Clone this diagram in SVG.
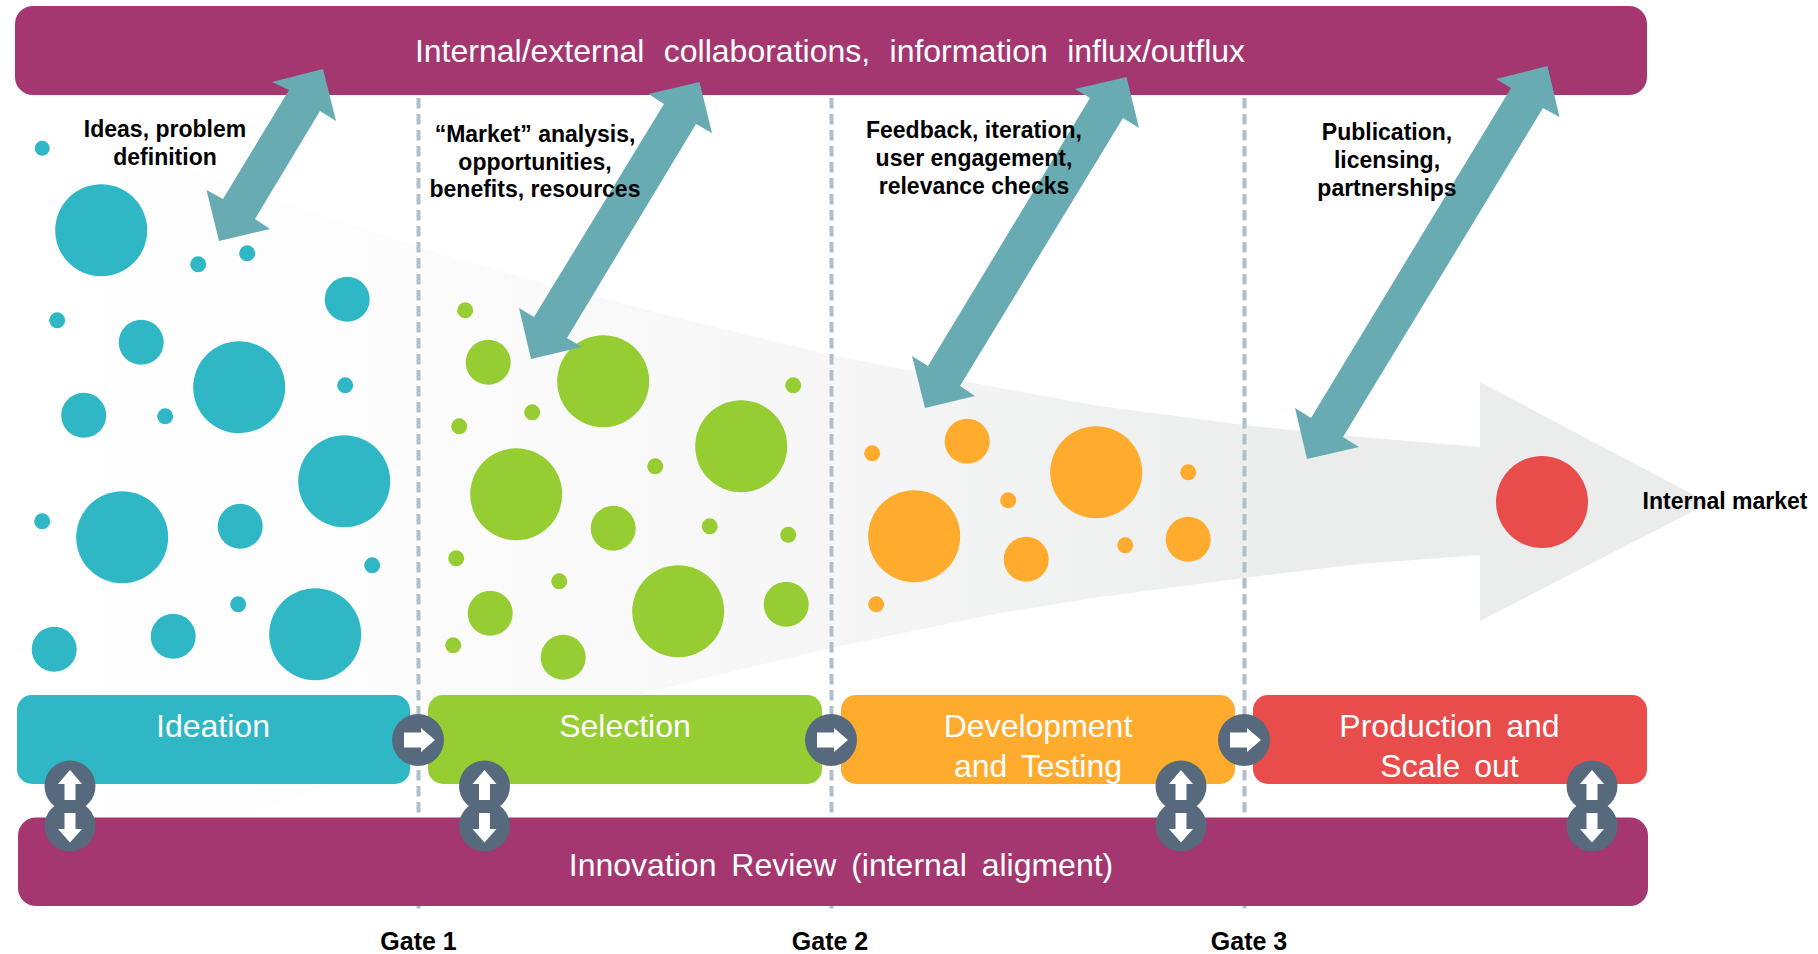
<svg xmlns="http://www.w3.org/2000/svg" width="1818" height="954" viewBox="0 0 1818 954">
<style>
.teal{fill:#2fb7c6}.green{fill:#95cd33}.orange{fill:#ffab2e}.red{fill:#e84d4c}.plum{fill:#a43770}
.dbl{fill:#68abb3}.gate{stroke:#b0bfca;stroke-width:4;stroke-dasharray:10.500 5.500;fill:none}
.btn{fill:#56697d}.ico{fill:#fff}
.w{font-family:"Liberation Sans",Arial,sans-serif;font-size:32px;fill:#fff;text-anchor:middle;word-spacing:5px}
.b{font-family:"Liberation Sans",Arial,sans-serif;font-size:23px;font-weight:700;fill:#000;text-anchor:middle}
.g{font-size:25px}
</style>
<defs>
<linearGradient id="fade" gradientUnits="userSpaceOnUse" x1="30" y1="0" x2="1300" y2="0">
<stop offset="0" stop-color="#fff"/><stop offset="0.236" stop-color="#fdfdfd"/><stop offset="0.63" stop-color="#f6f6f6"/><stop offset="0.843" stop-color="#f0f1f1"/><stop offset="1" stop-color="#ebeded"/>
</linearGradient>
<g id="bR"><circle r="26" class="btn"/><path class="ico" d="M-14-7.500H3V-12L17 0L3 12V7.500H-14Z"/></g>
<g id="bU"><circle r="25.500" class="btn"/><path class="ico" d="M0-16L12-2H5.500V14H-5.500V-2H-12Z"/></g>
<g id="bD"><circle r="25.500" class="btn"/><path class="ico" d="M0 16.500L12 3H5.500V-13H-5.500V3H-12Z"/></g>
</defs>
<rect width="1818" height="954" fill="#fff"/>

<g id="funnel">
<path fill="url(#fade)" d="M30 110L194 170L300 207L418 247L550 285L690 321L831 355L1000 388L1100 406L1244 425L1360 437L1480 447V382L1709 503L1480 621V555L1360 564L1244 578L1100 597L1000 613L831 648L644 693L328 786L245 816L30 896Z"/>
</g>

<g id="connectors">
<line class="gate" x1="418.500" y1="98" x2="418.500" y2="910"/>
<line class="gate" x1="831.500" y1="98" x2="831.500" y2="910"/>
<line class="gate" x1="1244.500" y1="98" x2="1244.500" y2="910"/>
</g>

<g id="ideas-bubbles" class="teal" transform="translate(0.200 0.300)">
<circle cx="42" cy="148" r="7.500"/><circle cx="101" cy="230" r="46"/><circle cx="198" cy="264" r="8"/><circle cx="247" cy="253" r="8"/><circle cx="347" cy="299" r="22.500"/><circle cx="57" cy="320" r="8"/><circle cx="141" cy="342" r="22.500"/><circle cx="239" cy="387" r="46"/><circle cx="345" cy="385" r="8"/><circle cx="83.500" cy="415" r="22.500"/><circle cx="165" cy="416" r="8"/><circle cx="344" cy="481" r="46"/><circle cx="42" cy="521" r="8"/><circle cx="122" cy="537" r="46"/><circle cx="240" cy="526" r="22.500"/><circle cx="372" cy="565" r="8"/><circle cx="238" cy="604" r="8"/><circle cx="173" cy="636" r="22.500"/><circle cx="315" cy="634" r="46"/><circle cx="54" cy="649" r="22.500"/>
</g>
<g id="selection-bubbles" class="green" transform="translate(0.200 0.300)">
<circle cx="465" cy="310" r="8"/><circle cx="488" cy="362" r="22.500"/><circle cx="603" cy="381" r="46"/><circle cx="793" cy="385" r="8"/><circle cx="532" cy="412" r="8"/><circle cx="459" cy="426" r="8"/><circle cx="741" cy="446" r="46"/><circle cx="655" cy="466" r="8"/><circle cx="516" cy="494" r="46"/><circle cx="613" cy="528" r="22.500"/><circle cx="709.500" cy="526" r="8"/><circle cx="788" cy="534.500" r="8"/><circle cx="456" cy="558" r="8"/><circle cx="559" cy="581" r="8"/><circle cx="490" cy="613" r="22.500"/><circle cx="678" cy="611" r="46"/><circle cx="786" cy="604" r="22.500"/><circle cx="453" cy="645" r="8"/><circle cx="563" cy="657" r="22.500"/>
</g>
<g id="development-bubbles" class="orange" transform="translate(0.200 0.300)">
<circle cx="872" cy="453" r="8"/><circle cx="967" cy="441" r="22.500"/><circle cx="1096" cy="472" r="46"/><circle cx="1188" cy="472" r="8"/><circle cx="1008" cy="500" r="8"/><circle cx="914" cy="536" r="46"/><circle cx="1125" cy="545" r="8"/><circle cx="1188" cy="539" r="22.500"/><circle cx="1026" cy="559" r="22.500"/><circle cx="876" cy="604" r="8"/>
</g>
<g id="production-bubble"><circle class="red" cx="1542" cy="502" r="46"/></g>

<g id="collaborations">
<rect class="plum" x="15" y="6" width="1632" height="89" rx="18"/>
<text class="w" x="830" y="62" style="word-spacing:10.500px">Internal/external collaborations, information influx/outflux</text>
</g>
<g id="innovation-review">
<rect class="plum" x="18" y="817.500" width="1630" height="88.500" rx="18"/>
<text class="w" x="841" y="876" style="word-spacing:6px">Innovation Review (internal aligment)</text>
</g>

<g id="ideation">
<rect class="teal" x="17" y="695" width="393" height="89" rx="15"/>
<text class="w" x="213" y="736.500">Ideation</text>
</g>
<g id="selection">
<rect class="green" x="428" y="695" width="394" height="89" rx="15"/>
<text class="w" x="625" y="736.500">Selection</text>
</g>
<g id="development">
<rect class="orange" x="841" y="695" width="394" height="89" rx="15"/>
<text class="w" x="1038" y="736.500">Development</text>
<text class="w" x="1038" y="776.500">and Testing</text>
</g>
<g id="production">
<rect class="red" x="1253" y="695" width="394" height="89" rx="15"/>
<text class="w" x="1449.500" y="736.500">Production and</text>
<text class="w" x="1449.500" y="776.500">Scale out</text>
</g>

<g id="exchange-arrows">
<polygon class="dbl" points="323,69 336,121 320,111 255,219 270,229 219,241 206.500,190 223,199 289,90 272,82"/>
<polygon class="dbl" points="699.500,82 712,133 696,124 567,338 582,347 531,359 519,308 534,317 664,104 648.500,94"/>
<polygon class="dbl" points="1126.500,77 1139,128 1123,118 960,386 975,396 925,408 912,356 928,366 1090,98 1075,89"/>
<polygon class="dbl" points="1547.500,66 1559.500,117 1543,108 1343,437 1359,447 1307,459 1295,408 1311,418 1511,88 1496,79"/>
</g>

<g id="gate-buttons">
<use href="#bR" x="418" y="740"/><use href="#bR" x="831" y="740"/><use href="#bR" x="1244" y="740"/>
<use href="#bU" x="70" y="786"/><use href="#bD" x="70" y="826"/>
<use href="#bU" x="484.500" y="786"/><use href="#bD" x="484.500" y="826"/>
<use href="#bU" x="1181" y="786"/><use href="#bD" x="1181" y="826"/>
<use href="#bU" x="1592" y="786"/><use href="#bD" x="1592" y="826"/>
</g>

<g id="labels">
<text class="b" x="165" y="137">Ideas, problem</text><text class="b" x="165" y="165">definition</text>
<text class="b" x="535" y="142">“Market” analysis,</text><text class="b" x="535" y="170">opportunities,</text><text class="b" x="535" y="197">benefits, resources</text>
<text class="b" x="974" y="138">Feedback, iteration,</text><text class="b" x="974" y="166">user engagement,</text><text class="b" x="974" y="194">relevance checks</text>
<text class="b" x="1387" y="140">Publication,</text><text class="b" x="1387" y="168">licensing,</text><text class="b" x="1387" y="196">partnerships</text>
<text class="b" x="1725" y="509">Internal market</text>
<text class="b g" x="418.500" y="950">Gate 1</text><text class="b g" x="830" y="950">Gate 2</text><text class="b g" x="1249" y="950">Gate 3</text>
</g>
</svg>
